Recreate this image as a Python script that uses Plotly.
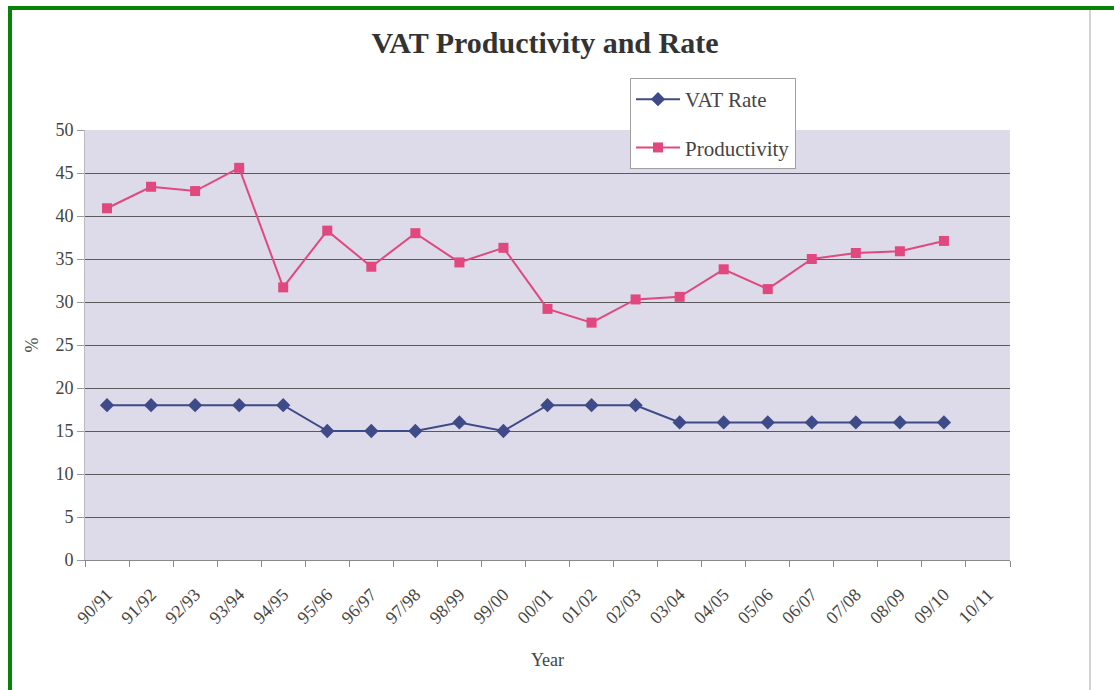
import plotly.graph_objects as go

years = ["90/91", "91/92", "92/93", "93/94", "94/95", "95/96", "96/97", "97/98",
         "98/99", "99/00", "00/01", "01/02", "02/03", "03/04", "04/05", "05/06",
         "06/07", "07/08", "08/09", "09/10", "10/11"]
vat_rate = [18, 18, 18, 18, 18, 15, 15, 15, 16, 15, 18, 18, 18, 16, 16, 16, 16, 16, 16, 16]
productivity = [40.9, 43.4, 42.9, 45.6, 31.7, 38.3, 34.1, 38.0, 34.6, 36.3,
                29.2, 27.6, 30.3, 30.6, 33.8, 31.5, 35.0, 35.7, 35.9, 37.1]
y_ticks = [0, 5, 10, 15, 20, 25, 30, 35, 40, 45, 50]

W, H = 1114, 690
L, R, T, B = 85, 1010, 130, 560

def px(x):
    return (x - L) / (R - L)

def py(y):
    return (B - y) / (B - T)

FONT = "Liberation Serif, Times New Roman, serif"

fig = go.Figure()
fig.add_trace(go.Scatter(
    x=years[:len(vat_rate)], y=vat_rate, name="VAT Rate", mode="lines+markers",
    line=dict(color="#3F4B88", width=2),
    marker=dict(symbol="diamond", size=11, color="#3F4B88"),
    legendgroup="a",
))
fig.add_trace(go.Scatter(
    x=years[:len(productivity)], y=productivity, name="Productivity", mode="lines+markers",
    line=dict(color="#E0487E", width=2),
    marker=dict(symbol="square", size=10, color="#E0487E"),
    legendgroup="b",
))

shapes = [
    # green frame (top and left)
    dict(type="rect", xref="paper", yref="paper", x0=px(8), x1=px(1114), y0=py(10), y1=py(6),
         fillcolor="#078407", line=dict(width=0), layer="above"),
    dict(type="rect", xref="paper", yref="paper", x0=px(8), x1=px(12), y0=py(690), y1=py(6),
         fillcolor="#078407", line=dict(width=0), layer="above"),
    # page edge line on the right
    dict(type="line", xref="paper", yref="paper", x0=px(1090), x1=px(1090), y0=py(690), y1=py(10),
         line=dict(color="#C4C4C4", width=1.5)),
]

fig.update_layout(
    width=W, height=H,
    margin=dict(l=L, r=W - R, t=T, b=H - B, autoexpand=False),
    paper_bgcolor="white",
    plot_bgcolor="#DDDAEA",
    font=dict(family=FONT, color="#444444", size=15),
    title=dict(text="<b>VAT Productivity and Rate</b>", x=(368 + 722) / 2 / W, xanchor="center",
               y=1 - 42 / H, yanchor="middle",
               font=dict(family=FONT, size=30, color="#333333")),
    showlegend=True,
    legend=dict(x=px(630), y=py(78), xanchor="left", yanchor="top",
                bgcolor="white", bordercolor="#A0A0A0", borderwidth=1,
                font=dict(family=FONT, size=21, color="#444444"),
                traceorder="grouped", tracegroupgap=18, itemwidth=44),
    shapes=shapes,
    xaxis=dict(
        type="category", categoryorder="array", categoryarray=years,
        range=[-0.5, len(years) - 0.5],
        tickmode="array", tickvals=years, ticktext=years,
        tickson="boundaries", ticks="outside", ticklen=6, tickcolor="#888888",
        tickangle=-45, tickfont=dict(size=18, color="#444444"),
        showgrid=False, showline=True, linecolor="#888888", linewidth=1,
        ticklabelstandoff=16,
        title=dict(text="Year", font=dict(size=18, color="#444444"), standoff=26),
        zeroline=False,
    ),
    yaxis=dict(
        range=[0, 50], tickmode="array", tickvals=y_ticks,
        ticks="outside", ticklen=7, tickcolor="#999999",
        tickfont=dict(size=18, color="#444444"),
        showgrid=True, gridcolor="#5A5A5A", gridwidth=1,
        showline=True, linecolor="#BBBBBB", linewidth=1,
        zeroline=False,
        title=dict(text="%", font=dict(size=18, color="#444444"), standoff=12),
    ),
)

fig.write_html("out.html")
